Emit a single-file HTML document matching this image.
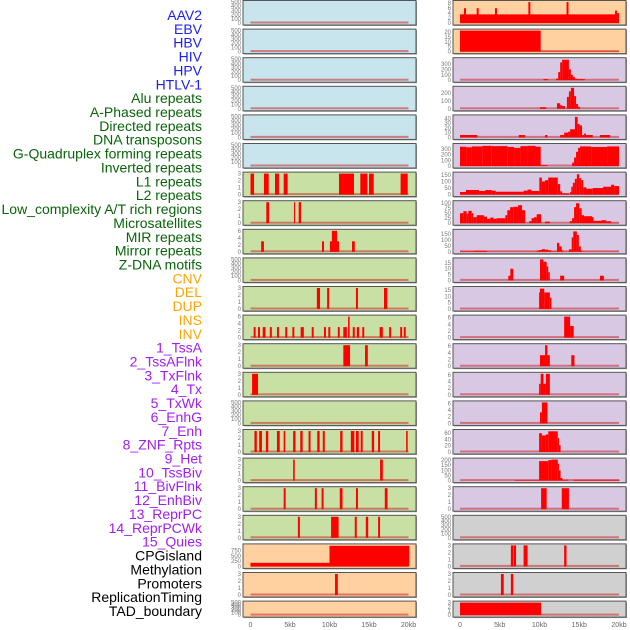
<!DOCTYPE html>
<html><head><meta charset="utf-8">
<style>
body{margin:0;background:#fff;width:630px;height:630px;overflow:hidden}
svg{display:block;font-family:"Liberation Sans",sans-serif}
</style></head>
<body>
<svg id="chart" width="630" height="630" viewBox="0 0 630 630" xmlns="http://www.w3.org/2000/svg"></svg>
<script>
// ---- labels ----
const trackLabels = ["AAV2","EBV","HBV","HIV","HPV","HTLV-1","Alu repeats","A-Phased repeats","Directed repeats","DNA transposons","G-Quadruplex forming repeats","Inverted repeats","L1 repeats","L2 repeats","Low_complexity A/T rich regions","Microsatellites","MIR repeats","Mirror repeats","Z-DNA motifs","CNV","DEL","DUP","INS","INV","1_TssA","2_TssAFlnk","3_TxFlnk","4_Tx","5_TxWk","6_EnhG","7_Enh","8_ZNF_Rpts","9_Het","10_TssBiv","11_BivFlnk","12_EnhBiv","13_ReprPC","14_ReprPCWk","15_Quies","CPGisland","Methylation","Promoters","ReplicationTiming","TAD_boundary"];
const labelGroups = [6,13,5,15,5];
const groupColors = ["#1e1ef0","#0a640a","#ffa500","#a020f0","#000000"];
const xTickValues = [0,5,10,15,20];
const xTickLabels = ["0","5kb","10kb","15kb","20kb"];

// ---- left column data: segments [startKb, endKb, value] ----
const L0=[],L1=[],L2=[],L3=[],L4=[],L5=[];
const L6=[[0,0.45,3],[1.7,2.3,3],[3.1,3.6,3],[4.2,4.7,3],[11.2,13.1,3],[13.9,14.8,3],[15.0,15.6,3],[19.0,19.9,3]];
const L7=[[2.0,2.35,3],[5.5,5.65,3],[6.1,6.4,3]];
const L8=[[1.35,1.7,3],[9.05,9.3,3],[10.05,11.2,3],[10.3,10.95,6],[12.85,13.2,3]];
const L9=[];
const L10=[[8.4,8.8,3],[9.7,9.95,3],[13.35,13.6,3],[16.9,17.3,3]];
const L11=[[0.4,0.65,3],[0.95,1.2,3],[1.55,1.9,3],[2.45,2.7,3],[3.35,3.6,3],[4.4,4.65,3],[5.3,5.55,3],[6.35,6.75,3],[7.75,8.0,3],[9.3,9.55,3],[9.85,10.1,3],[11.05,11.3,3],[11.75,12.2,3],[12.35,12.55,6],[12.95,13.2,3],[13.45,13.75,3],[14.15,14.4,3],[16.35,16.75,3],[17.55,17.8,3],[18.95,19.2,3],[19.4,19.65,3]];
const L12=[[11.75,12.6,3],[14.5,14.85,3]];
const L13=[[0.2,0.95,3]];
const L14=[];
const L15=[[0.5,0.8,3],[1.1,1.45,3],[1.95,2.25,3],[3.35,3.7,3],[4.2,4.4,3],[5.4,5.7,3],[6.3,6.6,3],[7.35,7.6,3],[8.45,8.75,3],[9.15,9.4,3],[11.35,11.65,3],[12.7,13.15,3],[13.35,13.7,3],[13.95,14.2,3],[15.35,15.65,3],[16.15,16.4,3],[19.7,19.9,3]];
const L16=[[5.4,5.6,3],[16.4,16.75,3]];
const L17=[[4.2,4.45,3],[8.15,8.4,3],[9.0,9.25,3],[11.3,11.65,3],[13.35,13.6,3],[17.0,17.35,3]];
const L18=[[6.0,6.25,3],[10.2,11.15,3],[13.2,13.45,3],[14.6,14.9,3],[16.15,16.4,3]];
const L19=[[0,10,170],[10,20.1,980]];
const L20=[[10.7,11.05,3]];
const L21=[];
const leftMax=[500,500,500,500,500,500,3,3,6,500,3,6,3,3,500,3,3,3,3,1000,3,500];
const leftTicks=[[0,100,200,300,400,500],[0,100,200,300,400,500],[0,100,200,300,400,500],[0,100,200,300,400,500],[0,100,200,300,400,500],[0,100,200,300,400,500],[0,1,2,3],[0,1,2,3],[0,2,4,6],[0,100,200,300,400,500],[0,1,2,3],[0,2,4,6],[0,1,2,3],[0,1,2,3],[0,100,200,300,400,500],[0,1,2,3],[0,1,2,3],[0,1,2,3],[0,1,2,3],[0,250,500,750],[0,1,2,3],[0,100,200,300,400,500]];
const leftBg=["b","b","b","b","b","b","g","g","g","g","g","g","g","g","g","g","g","g","g","o","o","o"];

// ---- right column data ----
const R0=[[0,20,3.5],[0.5,0.75,6],[2.1,2.35,6],[4.4,4.65,6],[8.6,8.85,8.5],[13.4,13.65,8.5],[19.5,19.75,5],[19.75,20,4]];
const R1=[[0,10.15,21.5],[10.15,20,0.4]];
const R2=[[10.5,11.1,20],[12.1,12.35,30],[12.35,12.6,150],[12.6,12.85,330],[12.85,13.7,380],[13.7,13.95,200],[13.95,14.2,100],[14.2,14.45,60],[14.45,14.7,30],[14.7,15.7,20]];
const R3=[[10.05,10.85,20],[12.2,12.6,70],[12.6,12.85,45],[12.85,13.2,35],[13.45,13.7,150],[13.7,13.95,220],[13.95,14.35,265],[14.35,14.6,160],[14.6,14.85,60],[14.85,15.1,25]];
const R4=[[0,2.2,5],[7.4,8.2,5],[10.7,11.0,5],[12.6,13.1,5],[13.1,13.6,10],[13.6,13.85,12],[13.85,14.46,17],[14.46,14.8,43],[14.8,15.05,28],[15.05,15.35,25],[15.35,15.6,5],[15.6,15.85,8],[15.85,16.7,5],[17.6,18.9,5]];
const R5=[[0,0.8,340],[0.8,1.5,330],[1.5,2.8,345],[2.8,4.0,355],[4.0,6.0,350],[6.0,6.8,335],[6.8,7.6,320],[7.6,8.5,350],[8.5,9.5,355],[9.5,10.15,340],[10.15,11.0,15],[14.1,14.35,60],[14.35,14.6,150],[14.6,14.85,250],[14.85,15.1,320],[15.1,16.5,345],[16.5,18.5,335],[18.5,20,345]];
const R6=[[0,0.75,20],[0.75,2.4,35],[2.4,3.2,28],[3.2,4.0,35],[4.0,4.5,30],[4.5,8.0,22],[8.0,8.5,30],[8.5,9.0,38],[9.0,9.98,28],[9.98,10.3,130],[10.3,10.7,100],[10.7,11.1,110],[11.1,12.3,130],[12.3,12.6,80],[12.6,12.85,25],[12.85,13.7,10],[13.85,14.0,20],[14.0,14.2,60],[14.2,14.45,90],[14.45,14.7,120],[14.7,15.0,155],[15.0,15.25,125],[15.25,15.5,110],[15.5,15.9,55],[15.9,16.7,45],[16.7,18.0,50],[18.0,19.0,60],[19.0,19.4,75],[19.4,20,65]];
const R7=[[0,0.42,50],[0.42,0.84,60],[0.84,1.05,48],[1.05,1.47,62],[1.47,1.68,50],[1.68,2.1,30],[2.1,3.0,40],[3.0,3.4,33],[3.4,3.8,22],[3.8,4.2,28],[4.2,4.6,22],[4.6,5.7,25],[5.7,5.95,40],[5.95,6.3,65],[6.3,6.7,80],[6.7,7.3,82],[7.3,7.8,90],[7.8,8.2,65],[8.7,9.0,10],[9.0,9.3,25],[9.3,9.65,30],[9.65,10.2,45],[10.7,11.3,8],[13.8,14.1,10],[14.1,14.35,25],[14.35,14.6,80],[14.6,15.0,100],[15.0,15.3,75],[15.3,15.6,40],[15.6,16.6,35],[16.6,16.8,30],[16.8,17.8,12],[17.8,18.4,15],[18.4,19.0,10],[19.0,20,2]];
const R8=[[0,1.75,5],[1.75,3.4,8],[3.4,9.6,2],[9.6,9.9,8],[9.9,10.3,15],[10.3,10.7,22],[10.7,11.1,18],[11.1,11.5,12],[11.5,12.2,3],[12.2,12.5,75],[12.5,12.8,45],[12.8,13.0,10],[13.0,13.7,2],[13.7,14.05,20],[14.05,14.25,120],[14.25,14.7,170],[14.7,14.95,140],[14.95,15.2,45],[15.2,15.4,10],[15.4,20,2]];
const R9=[[6.08,6.33,4],[6.33,6.7,10],[10.06,10.5,18],[10.5,10.9,16],[10.9,11.1,12],[11.1,11.3,7],[12.6,13.1,4],[17.6,18.1,4]];
const R10=[[9.95,10.06,13],[10.06,10.6,16],[10.6,11.3,13],[11.3,11.5,9]];
const R11=[[13.1,13.85,6.3],[13.85,14.3,3.5]];
const R12=[[10.06,10.7,3.3],[10.7,11.0,6.3],[11.0,11.3,3.3],[14.0,14.4,3.3]];
const R13=[[9.95,10.15,3.3],[10.15,10.5,6.3],[10.5,10.8,3.3],[10.8,11.3,6.3]];
const R14=[[10.06,10.3,3.3],[10.3,11.0,6.3]];
const R15=[[9.95,10.3,60],[10.3,10.8,53],[10.8,11.1,56],[11.1,12.3,66],[12.3,12.45,45],[12.45,12.65,22]];
const R16=[[6.9,9.95,5],[9.95,11.1,190],[11.1,11.5,200],[11.5,12.3,205],[12.3,12.45,165],[12.45,12.65,100],[12.65,12.9,25],[12.9,13.6,8],[14.25,20.1,8]];
const R17=[[10.2,10.9,3],[12.8,13.7,3]];
const R18=[];
const R19=[[6.4,6.7,3],[6.75,7.05,3],[8.0,8.5,3],[13.1,13.4,3]];
const R20=[[5.15,5.5,3],[6.4,6.7,3]];
const R21=[[0,10.2,3]];
const rightMax=[8.5,21.5,390,265,44,370,160,105,175,18,16.5,6.3,6.3,6.3,6.3,67,205,3,500,3,3,3];
const rightTicks=[[0,2,4,6,8],[0,5,10,15,20],[0,100,200,300],[0,100,200],[0,10,20,30,40],[0,100,200,300],[0,50,100,150],[0,25,50,75,100],[0,50,100,150],[0,5,10,15],[0,5,10,15],[0,2,4,6],[0,2,4,6],[0,2,4,6],[0,2,4,6],[0,20,40,60],[0,50,100,150,200],[0,1,2,3],[0,100,200,300,400,500],[0,1,2,3],[0,1,2,3],[0,1,2,3]];
const rightBg=["o","o","p","p","p","p","p","p","p","p","p","p","p","p","p","p","p","p","x","x","x","x"];

const leftData=[L0,L1,L2,L3,L4,L5,L6,L7,L8,L9,L10,L11,L12,L13,L14,L15,L16,L17,L18,L19,L20,L21];
const rightData=[R0,R1,R2,R3,R4,R5,R6,R7,R8,R9,R10,R11,R12,R13,R14,R15,R16,R17,R18,R19,R20,R21];

const bgColors={b:"#c8e4ec",g:"#c8e0a4",o:"#ffd0a0",p:"#d8c8e4",x:"#d0d0d0"};
const NS="http://www.w3.org/2000/svg";
const svg=document.getElementById("chart");
function mk(tag,attrs,parent){const e=document.createElementNS(NS,tag);for(const k in attrs)e.setAttribute(k,attrs[k]);(parent||svg).appendChild(e);return e;}

// labels
let li=0;
labelGroups.forEach((n,g)=>{for(let j=0;j<n;j++){
  const t=mk("text",{x:202,y:20+13.86*li,"text-anchor":"end","font-size":"14",fill:groupColors[g]});
  t.textContent=trackLabels[li];
  
  
  li++;}});

const cols=[{px:243,pw:173,x0:250.5,k:7.9,data:leftData,max:leftMax,ticks:leftTicks,bg:leftBg,name:"left"},
            {px:453,pw:173,x0:460,k:7.95,data:rightData,max:rightMax,ticks:rightTicks,bg:rightBg,name:"right"}];
cols.forEach(c=>{
  const xs=v=>c.x0+v*c.k;
  for(let i=0;i<22;i++){
    const top=0.5+28.6*i, h=(i===21?16:24.5);
    const g=mk("g",{});
    
    
    mk("rect",{x:c.px+1,y:top+1,width:c.pw,height:h,fill:"#999"},g);
    const bg=mk("rect",{x:c.px,y:top,width:c.pw,height:h,fill:bgColors[c.bg[i]],stroke:"#555","stroke-width":1},g);
    
    
    const y0=top+h-2, ph=h-3.5;
    const ys=v=>y0-v/c.max[i]*ph;
    const base=mk("rect",{x:xs(0),y:y0-1.5,width:xs(20)-xs(0),height:2,fill:"rgba(200,40,40,0.55)"},g);
    
    
    c.data[i].forEach(s=>{
      const r=mk("rect",{x:xs(s[0]),y:ys(s[2]),width:Math.max(1,xs(s[1])-xs(s[0])),height:y0-ys(s[2]),fill:"#ff0000"},g);
      
      
    });
    c.ticks[i].forEach(tv=>{
      const t=mk("text",{x:c.px-2,y:ys(tv)+2,"text-anchor":"end","font-size":"6",fill:"#777"},g);
      t.textContent=tv;
      
      
    });
  }
  xTickValues.forEach((v,j)=>{
    const t=mk("text",{x:xs(v),y:627,"text-anchor":"middle","font-size":"7",fill:"#666"});
    t.textContent=xTickLabels[j];
    
    
  });
});
</script>
</body></html>
